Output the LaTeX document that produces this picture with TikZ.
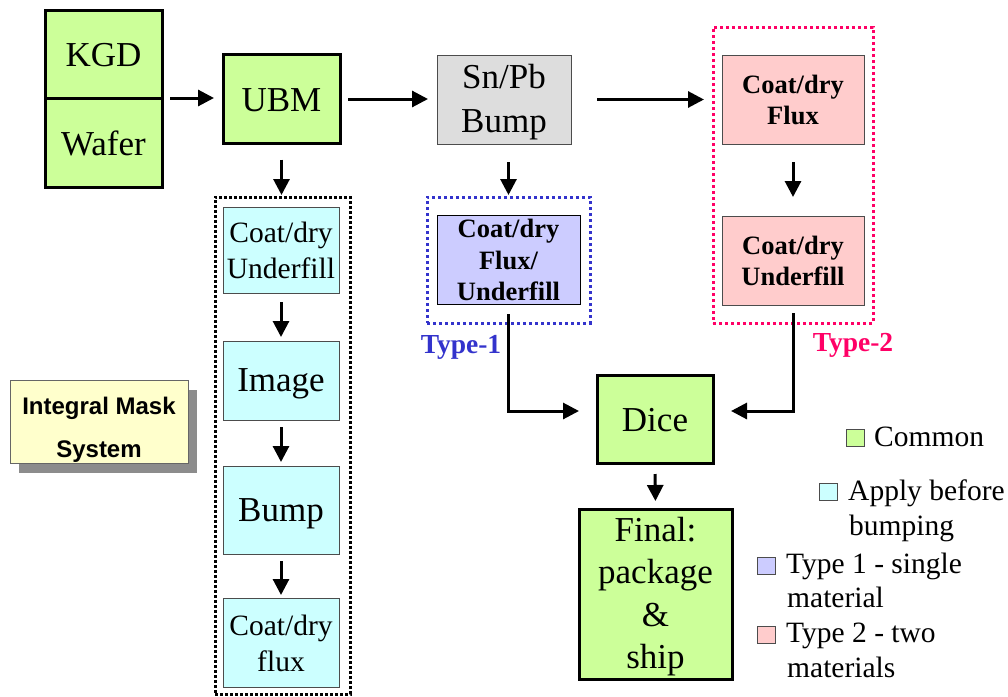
\documentclass[tikz,border=0pt]{standalone}
\usepackage{fontspec}
\setmainfont{Liberation Serif}
\newfontfamily\arialf{Liberation Sans}
\usetikzlibrary{arrows.meta,shadows}
\definecolor{cgreen}{HTML}{CCFF99}
\definecolor{ccyan}{HTML}{CCFFFF}
\definecolor{cblue}{HTML}{CCCCFF}
\definecolor{cred}{HTML}{FFCCCC}
\definecolor{cgray}{HTML}{DDDDDD}
\definecolor{cyellow}{HTML}{FFFFCC}
\definecolor{dblue}{HTML}{3333CC}
\definecolor{dred}{HTML}{FF0066}
\newcommand\sst{\rule[-0.13em]{0pt}{0.98em}}
\begin{document}
\begin{tikzpicture}[x=1pt,y=-1pt,
  box/.style={draw, outer sep=0pt, inner sep=0pt, align=center},
  gbox/.style={box, fill=cgreen, line width=3pt},
  tbox/.style={box, line width=1pt, draw=black!70},
  cbox/.style={tbox, fill=ccyan, minimum width=116pt},
  big/.style={font=\fontsize{35}{44}\selectfont},
  mid/.style={font=\fontsize{29.5}{36}\selectfont},
  bld/.style={font=\fontsize{26.5}{31.5}\selectfont\bfseries},
  arr/.style={line width=3pt, -{Triangle[length=16pt,width=16pt]}},
  dotbox/.style={draw, line width=3pt, outer sep=0pt, inner sep=0pt, dash pattern=on 3pt off 3pt},
  legsq/.style={draw=black!70, line width=1pt, minimum width=18pt, minimum height=17pt, inner sep=0pt, outer sep=0pt},
  legtxt/.style={font=\fontsize{29.5}{35}\selectfont, inner sep=0pt, anchor=base west},
  typelbl/.style={font=\fontsize{27.5}{30}\selectfont\bfseries, inner sep=0pt}
]
\useasboundingbox (0,0) rectangle (1008,696);

% left column
\node[gbox, big, minimum width=117pt, minimum height=88pt] (kgd) at (103.5,54) {\sst KGD};
\node[gbox, big, minimum width=117pt, minimum height=89pt] (wafer) at (103.5,142.5) {\sst Wafer};
\node[gbox, big, minimum width=117pt, minimum height=89pt] (ubm) at (281.5,99) {\sst UBM};
\node[tbox, big, fill=cgray, minimum width=134pt, minimum height=89pt] (snpb) at (504,99.5) {\sst Sn/Pb\\\sst Bump};

% apply-before column
\node[dotbox, draw=black, dash pattern=on 3pt off 2pt, minimum width=135pt, minimum height=497pt] (bdot) at (282.5,445.5) {};
\node[cbox, mid, minimum height=86pt] (cu) at (281,250) {\sst Coat/dry\\\sst Underfill};
\node[cbox, big, minimum height=79pt] (img) at (281,380.5) {\sst Image};
\node[cbox, big, minimum height=88pt] (bump) at (281,510) {\sst Bump};
\node[cbox, mid, minimum height=89pt] (cf) at (281,642.5) {\sst Coat/dry\\\sst flux};

% type 1
\node[dotbox, draw=dblue, minimum width=163pt, minimum height=126pt] (bluedot) at (508.5,260) {};
\node[tbox, bld, draw=black, fill=cblue, minimum width=143pt, minimum height=89pt] (bluebox) at (508.5,259.5) {\sst Coat/dry\\\sst Flux/\\\sst Underfill};
\node[typelbl, text=dblue] (t1) at (461,347) {Type-1};

% type 2
\node[dotbox, draw=dred, minimum width=160pt, minimum height=296pt] (reddot) at (793,175) {};
\node[tbox, bld, fill=cred, minimum width=142pt, minimum height=89pt] (rflux) at (793,99.5) {\sst Coat/dry\\\sst Flux};
\node[tbox, bld, fill=cred, minimum width=142pt, minimum height=89pt] (rund) at (793,260.5) {\sst Coat/dry\\\sst Underfill};
\node[typelbl, text=dred] (t2) at (853,345) {Type-2};

% dice & final
\node[gbox, big, minimum width=116pt, minimum height=88pt] (dice) at (655,419) {\sst Dice};
\node[gbox, font=\fontsize{35}{42.5}\selectfont, minimum width=153pt, minimum height=170pt] (final) at (655.5,594) {\sst Final:\\\sst package\\\sst\&\\\sst ship};

% integral mask system
\node[tbox, fill=cyellow, draw=black!60, minimum width=178pt, minimum height=74pt,
      font=\arialf\bfseries\fontsize{24}{43}\selectfont,
      drop shadow={shadow xshift=9pt, shadow yshift=-9pt, fill=black!45, opacity=1}] (ims) at (99,422)
      {\rule[-6pt]{0pt}{40pt}Integral Mask\\\rule[-6pt]{0pt}{40pt}System};

% arrows
\draw[arr, shorten <=8pt, shorten >=9pt] (wafer.north east) -- (wafer.north east -| ubm.west);
\draw[arr, shorten <=8pt, shorten >=9pt] (ubm.east) -- (ubm.east -| snpb.west);
\draw[arr, shorten <=26pt, shorten >=9pt] (snpb.east) -- (snpb.east -| reddot.west);
\draw[arr, shorten <=16pt, shorten >=2pt] (ubm.south) -- (ubm.south |- bdot.north);
\draw[arr, shorten <=9pt, shorten >=4pt] (cu.south) -- (img.north);
\draw[arr, shorten <=7pt, shorten >=4pt] (img.south) -- (bump.north);
\draw[arr, shorten <=7pt, shorten >=3pt] (bump.south) -- (cf.north);
\draw[arr, shorten <=18pt, shorten >=2pt] (bluebox |- snpb.south) -- (bluebox |- bluedot.north);
\draw[arr, shorten <=18pt, shorten >=19pt] (rflux.south) -- (rund.north);
\draw[arr, shorten <=10pt, shorten >=18pt] (bluebox.south) |- ([yshift=8pt]dice.west);
\draw[arr, shorten <=8pt, shorten >=18pt] (rund.south) |- ([yshift=8pt]dice.east);
\draw[arr, shorten <=11pt, shorten >=8pt] (dice.south) -- (final.north);

% legend
\node[legsq, fill=cgreen] (lg) at (855.5,438) {};
\node[legtxt] (lgt) at (874,446) {Common};
\node[legsq, fill=ccyan] (lc) at (828.5,492) {};
\node[legtxt] (lct) at (848,500) {Apply before};
\node[legtxt] (lct2) at (849,535) {bumping};
\node[legsq, fill=cblue] (lb) at (766.5,566) {};
\node[legtxt] (lbt) at (786,573) {Type 1 - single};
\node[legtxt] (lbt2) at (787,607) {material};
\node[legsq, fill=cred] (lr) at (766.5,635) {};
\node[legtxt] (lrt) at (786,642) {Type 2 - two};
\node[legtxt] (lrt2) at (787,677) {materials};
\end{tikzpicture}
\end{document}
